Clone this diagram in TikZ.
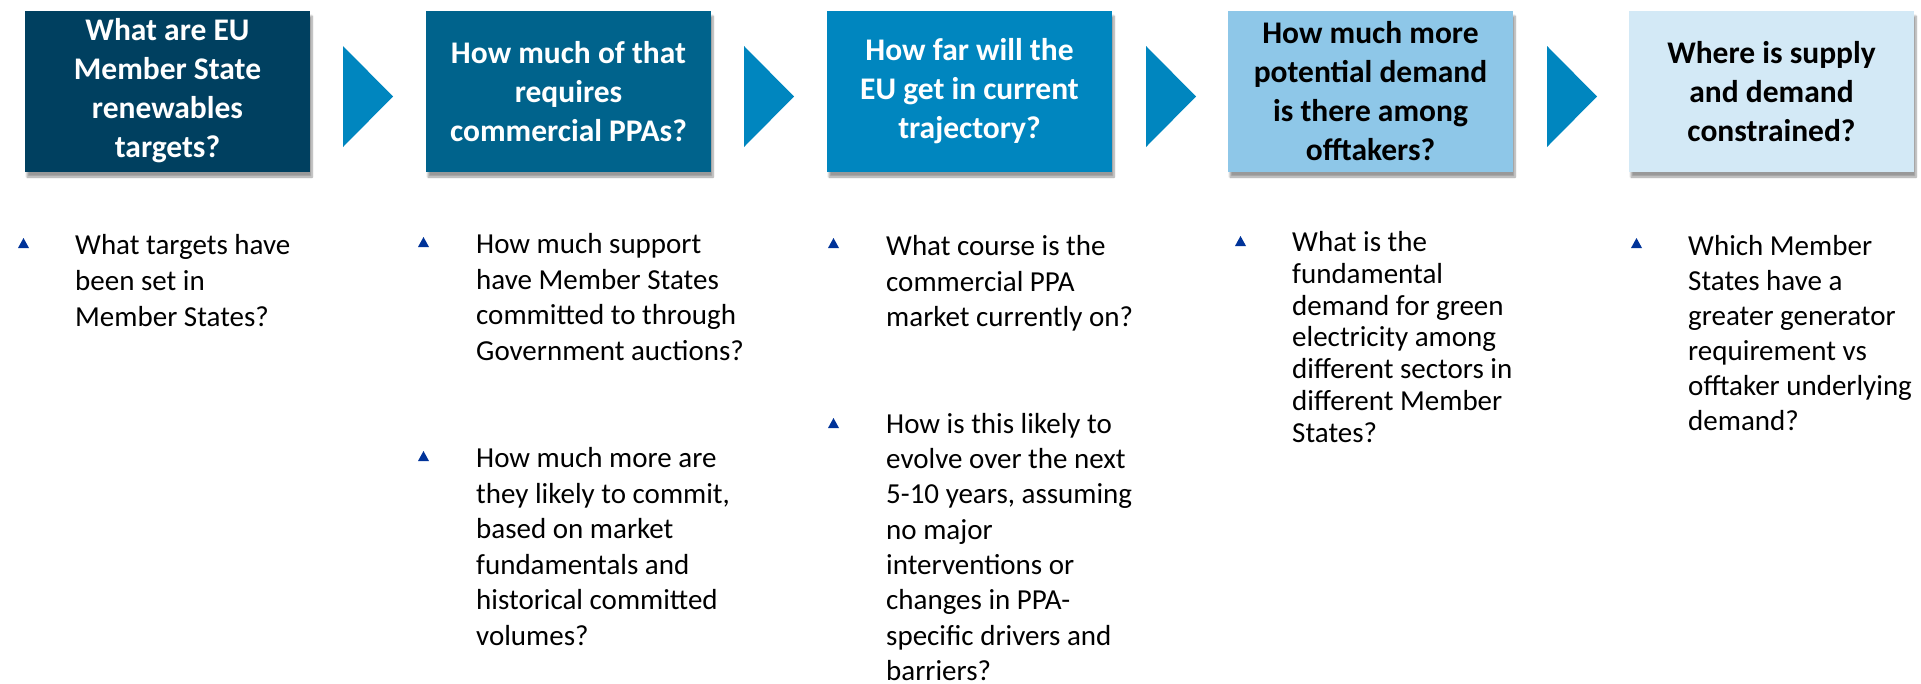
\documentclass[tikz,border=0pt]{standalone}
\usepackage{fontspec}
\setmainfont{Carlito}
\usetikzlibrary{shadows.blur}
\definecolor{cA}{RGB}{0,64,96}
\definecolor{cB}{RGB}{0,99,140}
\definecolor{cC}{RGB}{0,134,191}
\definecolor{cD}{RGB}{142,199,232}
\definecolor{cE}{RGB}{211,233,246}
\definecolor{bul}{RGB}{0,51,153}
\definecolor{arr}{RGB}{0,134,191}
\tikzset{
  qbox/.style={minimum width=285pt, minimum height=161pt, inner sep=0pt, align=center,
    font=\fontsize{31.5}{39}\selectfont\bfseries,
    blur shadow={shadow xshift=2pt, shadow yshift=-5pt, shadow blur steps=8, shadow opacity=40}},
  btext/.style={anchor=north west, inner sep=0pt, align=left, text=black,
    font=\fontsize{29}{35.5}\selectfont},
  bpic/.style={fill=bul},
  chev/.style={fill=arr}
}
\begin{document}
\begin{tikzpicture}[x=1pt,y=-1pt]
\useasboundingbox (0,0) rectangle (1921,683);
% question boxes
\node[qbox, fill=cA, text=white] (b1) at (167.5,91.5) {\raisebox{-2pt}{\begin{tabular}{@{}c@{}}What are EU\\Member State\\renewables\\targets?\end{tabular}}};
\node[qbox, fill=cB, text=white] (b2) at (568.5,91.5) {How much of that\\requires\\commercial PPAs?};
\node[qbox, fill=cC, text=white] (b3) at (969.5,91.5) {How far will the\\EU get in current\\trajectory?};
\node[qbox, fill=cD, text=black] (b4) at (1370.5,91.5) {How much more\\potential demand\\is there among\\offtakers?};
\node[qbox, fill=cE, text=black] (b5) at (1771.5,91.5) {Where is supply\\and demand\\constrained?};
% chevron arrows
\fill[chev] (343,46) -- (393,96.5) -- (343,147) -- cycle;
\fill[chev] (744,46) -- (794,96.5) -- (744,147) -- cycle;
\fill[chev] (1146,46) -- (1196,96.5) -- (1146,147) -- cycle;
\fill[chev] (1547,46) -- (1597,96.5) -- (1547,147) -- cycle;
% bullets
\fill[bpic] (18,248) -- (23.5,238) -- (29,248) -- cycle;
\fill[bpic] (418,247) -- (423.5,237) -- (429,247) -- cycle;
\fill[bpic] (418,461) -- (423.5,451) -- (429,461) -- cycle;
\fill[bpic] (828,248) -- (833.5,238) -- (839,248) -- cycle;
\fill[bpic] (828,428) -- (833.5,418) -- (839,428) -- cycle;
\fill[bpic] (1235,246) -- (1240.5,236) -- (1246,246) -- cycle;
\fill[bpic] (1631,248) -- (1636.5,238) -- (1642,248) -- cycle;
% bullet texts
\node[btext, font=\fontsize{29}{36}\selectfont] (t1) at (75,234.5) {What targets have\\been set in\\Member States?};
\node[btext] (t2a) at (476,233.5) {How much support\\have Member States\\committed to through\\Government auctions?};
\node[btext] (t2b) at (476,447.5) {How much more are\\they likely to commit,\\based on market\\fundamentals and\\historical committed\\volumes?};
\node[btext] (t3a) at (886,235.5) {What course is the\\commercial PPA\\market currently on?};
\node[btext, font=\fontsize{29}{35.3}\selectfont] (t3b) at (886,413) {How is this likely to\\evolve over the next\\5-10 years, assuming\\no major\\interventions or\\changes in PPA-\\specific drivers and\\barriers?};
\node[btext, font=\fontsize{29}{31.7}\selectfont] (t4) at (1292,231.5) {What is the\\fundamental\\demand for green\\electricity among\\different sectors in\\different Member\\States?};
\node[btext, font=\fontsize{29}{35}\selectfont] (t5) at (1688,235.5) {Which Member\\States have a\\greater generator\\requirement vs\\offtaker underlying\\demand?};
\end{tikzpicture}
\end{document}
